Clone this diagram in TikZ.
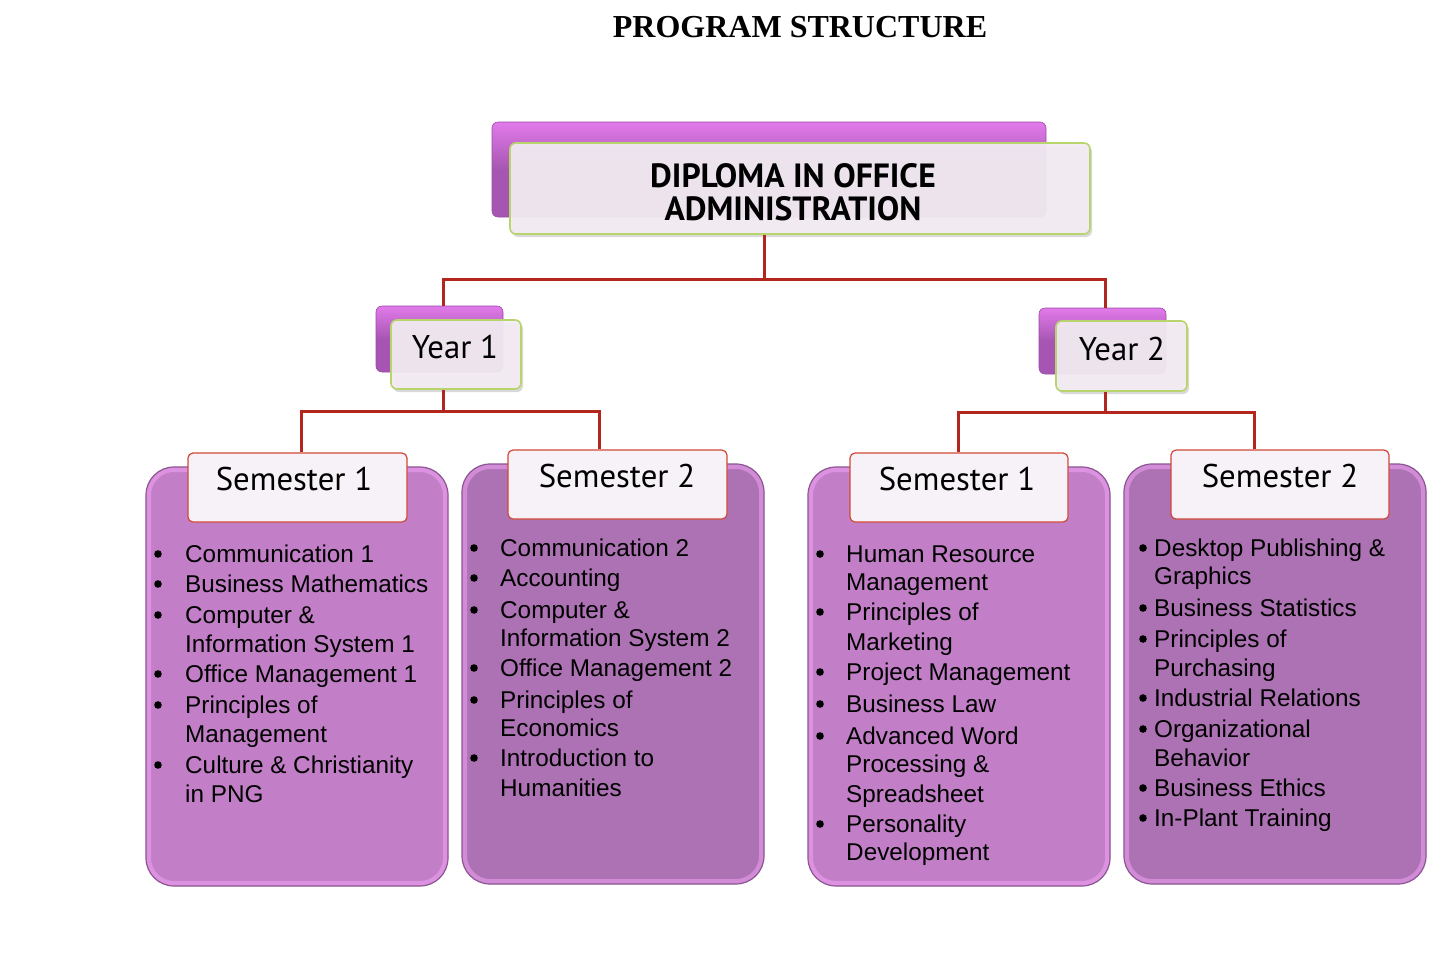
\documentclass[tikz,border=0pt]{standalone}
\usepackage{fontspec}
\setmainfont{Liberation Sans}
\newfontfamily\ptsans{PT Sans}
\newfontfamily\serifbold{Liberation Serif}
\usetikzlibrary{shadows}
\definecolor{connred}{HTML}{B3261E}
\definecolor{magtop}{HTML}{E27AEA}
\definecolor{magbot}{HTML}{A656B2}
\definecolor{magedge}{HTML}{9A4AA6}
\definecolor{frontfill}{HTML}{F3EDF3}
\definecolor{greenedge}{HTML}{B8D46C}
\definecolor{biglight}{HTML}{C27FC7}
\definecolor{bigdark}{HTML}{AD72B3}
\definecolor{bigedge}{HTML}{8A5590}
\definecolor{pinkedge}{HTML}{F2A2F6}
\definecolor{headfill}{HTML}{F7F2F7}
\definecolor{headedge}{HTML}{D04838}
\newcommand\courselist[4]{%
  \foreach \t/\yy/\b [count=\i] in {#4} {
    \node[course] (#1-\i) at (#3,\yy) {\t};
    \ifnum\b=1 \fill (#2,\yy-8) circle (3.8pt);\fi
  }}
\begin{document}
\begin{tikzpicture}[x=1pt,y=-1pt]
\tikzset{
  conn/.style={draw=connred, line width=3pt},
  magback/.style={rounded corners=6pt, top color=magtop, bottom color=magbot, middle color=magbot, draw=magedge, line width=0.6pt, inner sep=0pt},
  frontbox/.style={rounded corners=6pt, fill=frontfill, fill opacity=0.93, draw=greenedge, line width=1.6pt, inner sep=0pt,
     drop shadow={shadow xshift=2pt, shadow yshift=-3pt, opacity=0.3}},
  bigbox/.style={rounded corners=28pt, draw=bigedge, line width=1.2pt, inner sep=0pt,
     minimum width=302pt, minimum height=419pt,
     path picture={\draw[pinkedge, line width=10pt, opacity=0.55, rounded corners=28pt]
        (path picture bounding box.south west) rectangle (path picture bounding box.north east);}},
  headbox/.style={rounded corners=5pt, fill=headfill, draw=headedge, line width=1.2pt, inner sep=0pt,
     minimum width=219pt, minimum height=69pt},
  course/.style={anchor=base west, inner sep=0pt, font=\fontsize{24.3}{28}\selectfont},
  headtext/.style={anchor=base, inner sep=0pt, font=\ptsans\fontsize{32.8}{36}\selectfont},
}
\useasboundingbox (0,0) rectangle (1452,956);

% title
\node[anchor=base, inner sep=0pt, font=\serifbold\bfseries\fontsize{32}{36}\selectfont] (title) at (800,37) {PROGRAM STRUCTURE};

% connector coordinates
\coordinate (j0) at (764,279);
\coordinate (ja) at (443,279);
\coordinate (jb) at (1105,279);
\coordinate (k0) at (443,411);
\coordinate (ka) at (301,411);
\coordinate (kb) at (599,411);
\coordinate (m0) at (1105,412);
\coordinate (ma) at (958,412);
\coordinate (mb) at (1254,412);

% diploma
\node[magback, minimum width=554pt, minimum height=95pt] (dipback) at (769,169.5) {};
\node[frontbox, minimum width=580pt, minimum height=91pt] (dip) at (800,188.5) {};
\node[align=center, inner sep=0pt, font=\ptsans\bfseries\fontsize{33.6}{33}\selectfont] (diptext) at (793,192) {DIPLOMA IN OFFICE\\ADMINISTRATION};

% years
\node[magback, minimum width=127pt, minimum height=66pt] (y1back) at (439.5,339) {};
\node[magback, minimum width=127pt, minimum height=66pt] (y2back) at (1102.5,341) {};

\draw[conn] (dip.south -| j0) -- (j0);
\draw[conn] (y1back.north -| ja) -- (ja) -- (jb) -- (y2back.north -| jb);

\node[frontbox, minimum width=130pt, minimum height=69pt] (y1) at (456,354.5) {};
\node[headtext] (y1text) at (455,358) {Year 1};
\node[frontbox, minimum width=131pt, minimum height=70pt] (y2) at (1121.5,356) {};
\node[headtext] (y2text) at (1122,360) {Year 2};

% semester big boxes
\node[bigbox, fill=biglight] (b1) at (297,676.5) {};
\node[bigbox, fill=bigdark, minimum height=420pt] (b2) at (613,674) {};
\node[bigbox, fill=biglight] (b3) at (959,676.5) {};
\node[bigbox, fill=bigdark, minimum height=420pt] (b4) at (1275,674) {};

% semester headers
\node[headbox] (h1) at (297.5,487.5) {};
\node[headbox] (h2) at (617.5,484.5) {};
\node[headbox, minimum width=218pt] (h3) at (959,487.5) {};
\node[headbox, minimum width=218pt] (h4) at (1280,484.5) {};

\draw[conn] (y1.south -| k0) -- (k0);
\draw[conn] (h1.north -| ka) -- (ka) -- (kb) -- (h2.north -| kb);
\draw[conn] (y2.south -| m0) -- (m0);
\draw[conn] (h3.north -| ma) -- (ma) -- (mb) -- (h4.north -| mb);

\node[headtext] (h1text) at (294,490) {Semester 1};
\node[headtext] (h2text) at (617,487) {Semester 2};
\node[headtext] (h3text) at (957,490) {Semester 1};
\node[headtext] (h4text) at (1280,487) {Semester 2};

% course lists
\courselist{ca}{158}{185}{Communication 1/562/1, Business Mathematics/592/1, Computer \&/623/1, Information System 1/652/0, Office Management 1/682/1, Principles of/713/1, Management/742/0, Culture \& Christianity/773/1, in PNG/802/0}
\courselist{cb}{474}{500}{Communication 2/556/1, Accounting/586/1, Computer \&/618/1, Information System 2/646/0, Office Management 2/676/1, Principles of/708/1, Economics/736/0, Introduction to/766/1, Humanities/796/0}
\courselist{cc}{820}{846}{Human Resource/562/1, Management/590/0, Principles of/620/1, Marketing/650/0, Project Management/680/1, Business Law/712/1, Advanced Word/744/1, Processing \&/772/0, Spreadsheet/802/0, Personality/832/1, Development/860/0}
\courselist{cd}{1143}{1154}{Desktop Publishing \&/556/1, Graphics/584/0, Business Statistics/616/1, Principles of/647/1, Purchasing/676/0, Industrial Relations/706/1, Organizational/737/1, Behavior/766/0, Business Ethics/796/1, In-Plant Training/826/1}
\end{tikzpicture}
\end{document}
